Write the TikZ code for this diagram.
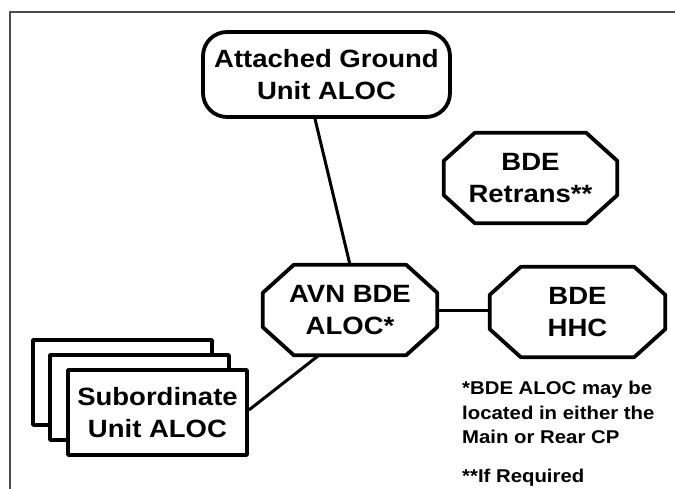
\documentclass[tikz,border=0pt]{standalone}
\usepackage{fontspec}
\setmainfont{Liberation Sans}[FakeStretch=1.1]
\usetikzlibrary{calc}
\begin{document}
\begin{tikzpicture}[x=1pt,y=-1pt,
  boxline/.style={line width=3.8pt,line join=round},
  link/.style={line width=3pt},
  lbl/.style={inner sep=0pt,align=center,font=\fontsize{25}{32}\selectfont\bfseries},
  note/.style={inner sep=0pt,align=left,anchor=north west,font=\fontsize{18.5}{24.5}\selectfont\bfseries}]
\useasboundingbox (0,0) rectangle (675,489);
\fill[white] (0,0) rectangle (675,489);
\draw[black!70,line width=1.5pt] (10,489) -- (10,12) -- (675,12);

% Attached Ground Unit ALOC
\node[lbl,draw,boxline,rounded corners=24pt,minimum width=247pt,minimum height=85pt] (ground) at (326.5,74.5) {Attached Ground\\Unit ALOC};

% octagon nodes
\node[lbl,minimum width=173pt,minimum height=90pt] (retrans) at (530.5,178) {BDE\\Retrans**};
\node[lbl,minimum width=174pt,minimum height=90pt] (avn) at (350,310) {AVN BDE\\ALOC*};
\node[lbl,minimum width=175pt,minimum height=90pt] (hhc) at (577.5,312) {BDE\\HHC};
\foreach \n in {retrans,avn,hhc}{
  \draw[boxline] ([xshift=31pt]\n.north west) -- ([xshift=-31pt]\n.north east)
    -- ([yshift=-28pt]\n.north east) -- ([yshift=28pt]\n.south east)
    -- ([xshift=-31pt]\n.south east) -- ([xshift=31pt]\n.south west)
    -- ([yshift=28pt]\n.south west) -- ([yshift=-28pt]\n.north west) -- cycle;
}

% Subordinate stack
\draw[boxline,fill=white] (33,340) rectangle (212,425);
\draw[boxline,fill=white] (50,355) rectangle (229,440);
\node[lbl,draw,boxline,fill=white,minimum width=179pt,minimum height=85pt] (sub) at (157.5,412.5) {Subordinate\\Unit ALOC};

% connectors
\draw[link] (ground.south -| 315,0) -- (avn.north -| 350,0);
\draw[link] (avn.east) -- (hhc.west |- avn.east);
\draw[link] (sub.east |- 0,410) -- (avn.south -| 319,0);

% footnotes
\node[note] (fn1) at (462,381) {*BDE ALOC may be\\located in either the\\Main or Rear CP};
\node[note] (fn2) at (462,469) {**If Required};
\end{tikzpicture}
\end{document}
